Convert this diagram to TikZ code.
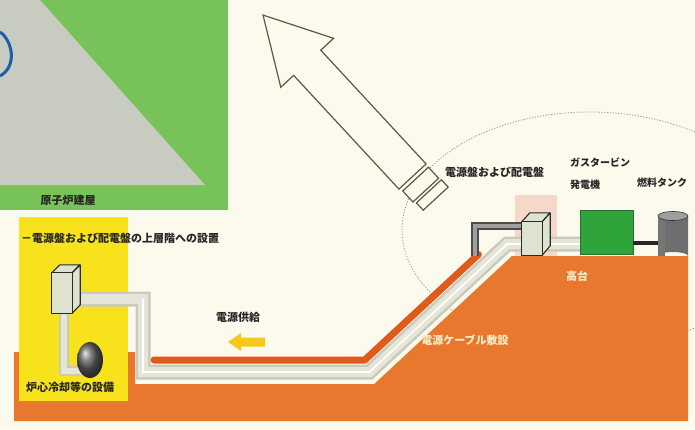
\documentclass[tikz,border=0pt]{standalone}
\usepackage{fontspec}
\newfontfamily\jp{Noto Sans CJK JP}
\usetikzlibrary{arrows.meta,calc}
\definecolor{paper}{HTML}{FCFAEC}
\definecolor{bldggreen}{HTML}{78C25A}
\definecolor{bldggray}{HTML}{C8CCC0}
\definecolor{reactorblue}{HTML}{1A5FA8}
\definecolor{ground}{HTML}{E8782E}
\definecolor{groundedge}{HTML}{E05A1C}
\definecolor{roomyellow}{HTML}{F8E21C}
\definecolor{cableedge}{HTML}{C9CABB}
\definecolor{cablefill}{HTML}{E6E6D8}
\definecolor{boxfill}{HTML}{DDE3CF}
\definecolor{boxline}{HTML}{2A2A2A}
\definecolor{gengreen}{HTML}{2EA43A}
\definecolor{tankgray}{HTML}{6E6E6E}
\definecolor{pinkzone}{HTML}{F6D8C8}
\definecolor{labeltext}{HTML}{262626}
\definecolor{lighttext}{HTML}{F8ECC8}
\definecolor{supplyyellow}{HTML}{F5C81B}
\definecolor{arrowline}{HTML}{5A5A42}
\begin{document}
\begin{tikzpicture}[x=1pt,y=-1pt,
  lbl/.style={font=\jp\bfseries\fontsize{11}{13}\selectfont, text=labeltext, inner sep=0pt},
  smalllbl/.style={lbl, font=\jp\bfseries\fontsize{10}{12}\selectfont},
  onground/.style={lbl, text=lighttext},
  cablebase/.style={line width=15pt, draw=cableedge, line join=miter},
  cabletop/.style={line width=10pt, draw=cablefill, line join=miter},
  cableshine/.style={line width=1.6pt, draw=white, line join=miter},
  cabinet/.style={fill=boxfill, draw=boxline, line width=1.1pt, line join=round},
  outlinearrow/.style={fill=paper, draw=arrowline, line width=1.2pt, line join=miter}]
\useasboundingbox (0,0) rectangle (695,429);
\fill[paper] (0,0) rectangle (695,429);

% reactor building (corner of the plan)
\fill[bldggreen] (0,0) rectangle (228,210);
\fill[bldggray] (0,0) -- (40,0) -- (205,185) -- (0,185) -- cycle;
\draw[reactorblue, line width=3pt] (0,32) .. controls (12,40) and (18,66) .. (0,76);
\node[lbl] (bldg) at (68,200) {原子炉建屋};

% dotted boundary of the high-ground facility
\draw[gray!80, line width=0.8pt, dash pattern=on 1.2pt off 1.6pt] (590,230) ellipse [x radius=188, y radius=118];

% ground profile
\fill[ground] (14,352) -- (135,352) -- (135,384) -- (374.2,384) -- (512,256) -- (688,256)
  -- (688,421) -- (14,421) -- cycle;

% upper-floor room in the reactor building
\fill[roomyellow] (19,217) rectangle (128,401);

% pink zone behind the switchboard
\fill[pinkzone] (515,195) rectangle (557,256);

% cable route
\coordinate (c0) at (76,299);
\coordinate (c1) at (143,299);
\coordinate (c2) at (143,372);
\coordinate (c3) at (369.5,372);
\coordinate (c4) at (507.3,244);
\coordinate (c5) at (580,244);
\draw[cablebase] (c0) -- (c1) -- (c2) -- (c3) -- (c4) -- (c5);
\draw[cabletop] (c0) -- (c1) -- (c2) -- (c3) -- (c4) -- (c5);
\draw[cableshine] (c1) -- (c2) -- (c3) -- (c4) -- (c5);

% ground surface line above the trench
\coordinate (s0) at (154,360);
\coordinate (s1) at (364.8,360);
\coordinate (s2) at (478.4,254.5);
\draw[groundedge, line width=7pt, line cap=round, line join=round] (s0) -- (s1) -- (s2);

% equipment in the reactor building
\coordinate (e0) at (64,312);
\coordinate (e1) at (64,371);
\coordinate (e2) at (82,371);
\draw[line width=10pt, draw=cableedge] (e0) -- (e1) -- (e2);
\draw[line width=6pt, draw=cablefill] (e0) -- (e1) -- (e2);
\node[draw=none, minimum width=20pt, minimum height=40pt, inner sep=0pt] (cab) at (62,293) {};
\draw[cabinet] (cab.north west) -- ++(8,-8) -- ++(20,0) -- (cab.north east) -- cycle;
\draw[cabinet] (cab.north east) -- ++(8,-8) -- ++(0,40) -- (cab.south east) -- cycle;
\draw[cabinet] (cab.south west) rectangle (cab.north east);
\shade[ball color=gray!75!black] (90,360) ellipse [x radius=13, y radius=18];
\node[coordinate] (core) at (90,360) {};
\node[lbl] (corelbl) at (70,387) {炉心冷却等の設備};
\node[lbl, anchor=west] (upper) at (21,238) {－電源盤および配電盤の上層階への設置};

% power supply direction
\fill[supplyyellow] (265,337.5) -- (241,337.5) -- (241,333) -- (228,342) -- (241,351) -- (241,346.5) -- (265,346.5) -- cycle;
\node[lbl] (supply) at (238,317) {電源供給};
\node[onground] (cablelbl) at (465,340) {電源ケーブル敷設};
\node[onground] (high) at (577,276) {高台};

% high-ground equipment
\coordinate (g0) at (522,226);
\coordinate (g1) at (475,226);
\coordinate (g2) at (475,256);
\draw[line width=7.5pt, draw=gray!60!black] (g0) -- (g1) -- (g2);
\draw[line width=4.5pt, draw=gray!75] (g0) -- (g1) -- (g2);
\node[draw=none, minimum width=20pt, minimum height=33pt, inner sep=0pt] (swb) at (532,238.5) {};
\draw[cabinet] (swb.north west) -- ++(8,-9) -- ++(20,0) -- (swb.north east) -- cycle;
\draw[cabinet] (swb.north east) -- ++(8,-9) -- ++(0,33) -- (swb.south east) -- cycle;
\draw[cabinet] (swb.south west) rectangle (swb.north east);
\node[fill=gengreen, draw=gengreen!70!black, line width=0.6pt, minimum width=53pt, minimum height=44pt, inner sep=0pt] (gen) at (606.5,232) {};
\node[draw=none, minimum width=30pt, minimum height=42pt, inner sep=0pt] (tank) at (673,236) {};
\draw[line width=4pt, draw=gray!30!black] (gen.east |- 0,243) -- (tank.west |- 0,243);
\fill[tankgray] (658,216) -- (658,256) arc[start angle=180, end angle=360, x radius=15, y radius=4] -- (688,216) -- cycle;
\fill[gray!45!tankgray] (658,216) rectangle (665,256);
\fill[gray!75] (673,216) ellipse [x radius=15, y radius=4.5];
\draw[gray!40!black, line width=0.6pt] (673,216) ellipse [x radius=15, y radius=4.5];
\node[lbl, anchor=west] (swblbl) at (445,172) {電源盤および配電盤};
\node[smalllbl, anchor=west] (genlbl1) at (570,163) {ガスタービン};
\node[smalllbl, anchor=west] (genlbl2) at (570,185) {発電機};
\node[smalllbl, anchor=west] (tanklbl) at (637,183) {燃料タンク};

% outlined arrow with its plug bars
\begin{scope}[shift={(412.5,176.5)}, rotate=132.8]
  \draw[outlinearrow] (0,-18.5) -- (155,-18.5) -- (155,-36) -- (220,0) -- (155,36) -- (155,18.5) -- (0,18.5) -- cycle;
  \draw[outlinearrow] (-4,-17) rectangle (-19,18);
  \draw[outlinearrow] (-22,-15) rectangle (-32,19);
\end{scope}
\end{tikzpicture}
\end{document}
